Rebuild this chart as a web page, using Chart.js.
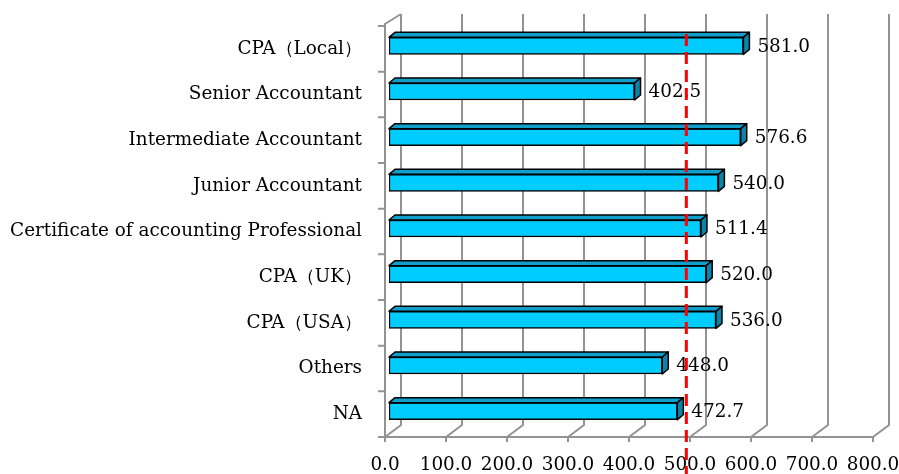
<!DOCTYPE html>
<html lang="en">
<head>
    <meta charset="UTF-8">
    <title>Salary by qualification</title>
    <script src="https://cdn.jsdelivr.net/npm/chart.js"></script>
    <style>
        body { margin: 0; background: #fff; }
    </style>
</head>
<body>
    <canvas id="salaryChart" width="899" height="474"></canvas>

    <script>
        // data
        const categories = ['CPA（Local）', 'Senior Accountant', 'Intermediate Accountant', 'Junior Accountant',
            'Certificate of accounting Professional', 'CPA（UK）', 'CPA（USA）', 'Others', 'NA'];
        const salaries = [581.0, 402.5, 576.6, 540.0, 511.4, 520.0, 536.0, 448.0, 472.7];
        const xTicks = [0, 100, 200, 300, 400, 500, 600, 700, 800];
        const refLine = 494;

        const FONT = { family: 'DejaVu Serif', size: 18.4 };
        const GRID = '#939393';
        const depth = { x: 16, y: -12 };   // back wall offset
        const barShift = { x: 4, y: -3 };  // bars sit a bit inside the box
        const face = { x: 6, y: -5 };      // bar thickness in depth

        const box3d = {
            id: 'box3d',
            beforeDatasetsDraw(chart) {
                const { ctx, chartArea: a, scales: { x, y } } = chart;
                ctx.save();
                ctx.strokeStyle = GRID;
                ctx.lineWidth = 2;
                ctx.beginPath();
                xTicks.forEach(v => {
                    const px = x.getPixelForValue(v);
                    // back wall line
                    ctx.moveTo(px + depth.x, a.top + depth.y);
                    ctx.lineTo(px + depth.x, a.bottom + depth.y);
                    // floor diagonal
                    ctx.lineTo(px, a.bottom);
                    // tick mark
                    ctx.moveTo(px, a.bottom);
                    ctx.lineTo(px, a.bottom + 5);
                });
                // floor front edge
                ctx.moveTo(a.left - 7, a.bottom);
                ctx.lineTo(x.getPixelForValue(800), a.bottom);
                // left wall front edge + top
                ctx.moveTo(a.left, a.bottom);
                ctx.lineTo(a.left, a.top - 2);
                ctx.lineTo(a.left + depth.x, a.top + depth.y);
                // category ticks
                const step = (a.bottom - a.top) / categories.length;
                for (let i = 0; i < categories.length; i++) {
                    const ty = a.top + i * step;
                    ctx.moveTo(a.left - 7, ty);
                    ctx.lineTo(a.left, ty);
                }
                ctx.stroke();
                ctx.restore();
            },
            beforeDatasetDraw(chart) {
                chart.ctx.save();
                chart.ctx.translate(barShift.x, barShift.y);
            },
            afterDatasetDraw(chart, args) {
                const ctx = chart.ctx;
                ctx.lineWidth = 1.5;
                ctx.lineJoin = 'round';
                ctx.strokeStyle = '#000';
                args.meta.data.forEach(bar => {
                    const x0 = bar.base, x1 = bar.x;
                    const yT = bar.y - bar.height / 2, yB = bar.y + bar.height / 2;
                    // top face
                    ctx.beginPath();
                    ctx.moveTo(x0, yT);
                    ctx.lineTo(x0 + face.x, yT + face.y);
                    ctx.lineTo(x1 + face.x, yT + face.y);
                    ctx.lineTo(x1, yT);
                    ctx.closePath();
                    ctx.fillStyle = '#109fca';
                    ctx.fill();
                    ctx.stroke();
                    // side face
                    ctx.beginPath();
                    ctx.moveTo(x1, yT);
                    ctx.lineTo(x1 + face.x, yT + face.y);
                    ctx.lineTo(x1 + face.x, yB + face.y);
                    ctx.lineTo(x1, yB);
                    ctx.closePath();
                    ctx.fillStyle = '#0a85aa';
                    ctx.fill();
                    ctx.stroke();
                });
                ctx.restore();
            },
            afterDatasetsDraw(chart) {
                const { ctx, scales: { x } } = chart;
                const meta = chart.getDatasetMeta(0);
                ctx.save();
                // value labels
                ctx.font = FONT.size + 'px ' + FONT.family;
                ctx.fillStyle = '#000';
                ctx.textBaseline = 'middle';
                meta.data.forEach((bar, i) => {
                    ctx.fillText(salaries[i].toFixed(1), bar.x + barShift.x + 14, bar.y + barShift.y + 1);
                });
                // red dashed reference line
                const rx = x.getPixelForValue(refLine);
                ctx.strokeStyle = '#ff0000';
                ctx.lineWidth = 3;
                ctx.setLineDash([12, 6]);
                ctx.beginPath();
                ctx.moveTo(rx, 34);
                ctx.lineTo(rx, chart.height);
                ctx.stroke();
                ctx.restore();
            }
        };

        new Chart(document.getElementById('salaryChart'), {
            type: 'bar',
            data: {
                labels: categories,
                datasets: [{
                    data: salaries,
                    backgroundColor: '#00ccff',
                    borderColor: '#000',
                    borderWidth: 1.5,
                    borderSkipped: false,
                    barThickness: 17
                }]
            },
            options: {
                indexAxis: 'y',
                responsive: false,
                animation: false,
                devicePixelRatio: 1,
                layout: { padding: { top: 26, right: 26, left: 0, bottom: 0 } },
                plugins: {
                    legend: { display: false },
                    tooltip: { enabled: false }
                },
                scales: {
                    x: {
                        min: 0,
                        max: 800,
                        afterBuildTicks: s => { s.ticks = xTicks.map(v => ({ value: v })); },
                        afterFit: s => {
                            s.height = 37;
                            s.paddingLeft = 0;
                            s.paddingRight = 0;
                        },
                        ticks: {
                            callback: v => Number(v).toFixed(1),
                            font: FONT,
                            color: '#000',
                            padding: 9,
                            maxRotation: 0
                        },
                        grid: { display: false },
                        border: { display: false }
                    },
                    y: {
                        afterFit: s => {
                            s.width = 385;
                            s.paddingTop = 0;
                            s.paddingBottom = 0;
                        },
                        ticks: {
                            font: FONT,
                            color: '#000',
                            padding: 15
                        },
                        grid: { display: false },
                        border: { display: false }
                    }
                }
            },
            plugins: [box3d]
        });
    </script>
</body>
</html>
